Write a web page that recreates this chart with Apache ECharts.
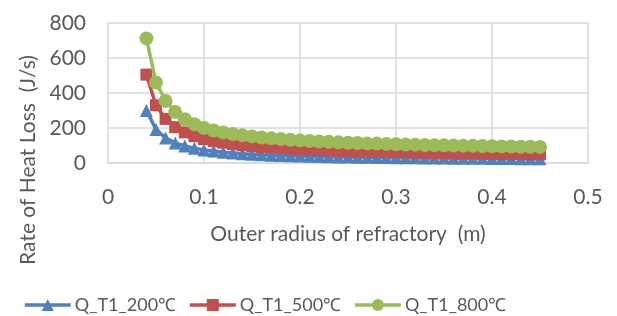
<!DOCTYPE html>
<html><head><meta charset="utf-8">
<script src="https://cdn.jsdelivr.net/npm/echarts@6/dist/echarts.min.js"></script>
<style>html,body{margin:0;padding:0;background:#fff}#c{width:617px;height:316px}</style>
</head><body><div id="c"></div>
<script>
const radius = [0.04,0.05,0.06,0.07,0.08,0.09,0.10,0.11,0.12,0.13,0.14,0.15,0.16,0.17,0.18,0.19,0.20,0.21,0.22,0.23,0.24,0.25,0.26,0.27,0.28,0.29,0.30,0.31,0.32,0.33,0.34,0.35,0.36,0.37,0.38,0.39,0.40,0.41,0.42,0.43,0.44,0.45];
const q200 = [300,192,143,115,97,84,75,68,62,57,53,50,47,45,43,41,39.5,38,37,36,35,34,33,32.5,32,31,30.5,30,29.5,29,28.5,28,27.5,27,27,26.5,26,26,25.5,25,25,24.5];
const q500 = [505,330,252,205,175,153,137,125,116,108,102,97,92,88,85,82,79,77,74,72,70,69,67,66,64,63,62,61,60,59,58,57,56,55.5,55,54,53.5,53,52,51.5,51,50];
const q800 = [712,460,355,292,250,222,200,186,175,166,158,152,146,141,137,133,129,126,123,121,118,116,114,112,111,109,107,106,105,103,102,101,100,99,98,97,96,95,94,93,92.5,92];
const seriesNames = ['Q_T1_200\u2103','Q_T1_500\u2103','Q_T1_800\u2103'];
const xTicks = {min:0, max:0.5, interval:0.1};
const yTicks = {min:0, max:800, interval:200};
const xTitle = 'Outer radius of refractory  (m)';
const yTitle = 'Rate of Heat Loss  (J/s)';

const FONT = 'Lato';
const FS = 21;
const TXT = '#595959';
const GRID = '#d9d9d9';
const chart = echarts.init(document.getElementById('c'), null, {renderer:'canvas'});
function pairs(vals){ return radius.map((r,i)=>[r, vals[i]]); }
const colors = ['#4F81BD','#C0504D','#9BBB59'];
const symbols = ['triangle','rect','circle'];
const sizes = [13,12,14];
const all = [q200,q500,q800];
chart.setOption({
  animation:false,
  textStyle:{fontFamily:FONT},
  grid:{left:108, right:29, top:23, bottom:153, containLabel:false},
  legend:{
    top:291, left:18, itemWidth:46, itemHeight:15, itemGap:12,
    lineStyle:{width:3.5},
    textStyle:{fontFamily:FONT, fontSize:18, color:TXT, padding:[0,0,0,-1]},
    data: seriesNames
  },
  graphic:[{type:'text', x:28, y:160, rotation:Math.PI/2,
    style:{text:yTitle, fontSize:FS, fontFamily:FONT, fill:TXT,
      textAlign:'center', textVerticalAlign:'middle', align:'center', verticalAlign:'middle'}}],
  xAxis:{type:'value', min:xTicks.min, max:xTicks.max, interval:xTicks.interval,
    name:xTitle, nameLocation:'middle', nameGap:61,
    nameTextStyle:{fontFamily:FONT, fontSize:FS, color:TXT},
    axisLine:{show:true, lineStyle:{color:GRID, width:1.5}},
    axisTick:{show:false},
    axisLabel:{color:TXT, fontSize:FS, fontFamily:FONT, margin:24},
    splitLine:{show:true, lineStyle:{color:GRID, width:1.5}}},
  yAxis:{type:'value', min:yTicks.min, max:yTicks.max, interval:yTicks.interval,
    axisLine:{show:false}, axisTick:{show:false},
    axisLabel:{color:TXT, fontSize:FS, fontFamily:FONT, margin:22},
    splitLine:{show:true, lineStyle:{color:GRID, width:1.5}}},
  series: all.map((vals,i)=>({
    name:seriesNames[i], type:'line', data:pairs(vals),
    symbol:symbols[i], symbolSize:sizes[i], showAllSymbol:true,
    lineStyle:{color:colors[i], width:3.5},
    itemStyle:{color:colors[i]}, z:2+i
  }))
});
</script></body></html>
